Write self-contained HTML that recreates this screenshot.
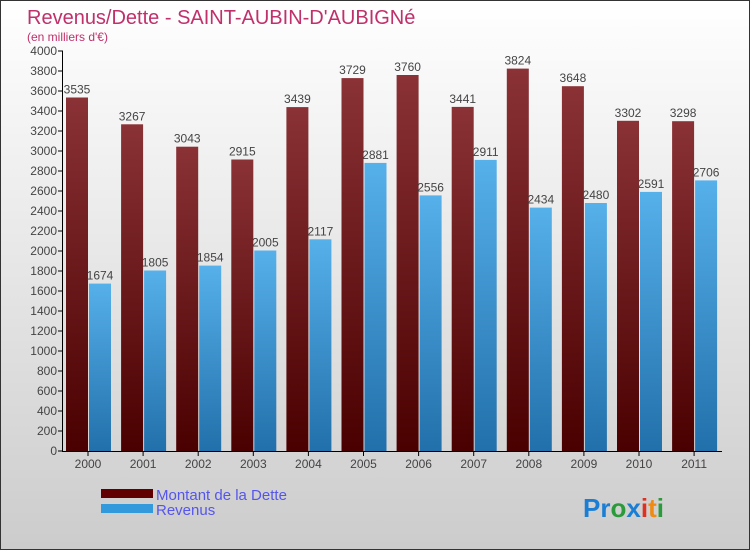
<!DOCTYPE html>
<html><head><meta charset="utf-8"><style>
body{margin:0}
#c{position:relative;width:748px;height:548px;border:1px solid #333;background:linear-gradient(#fff,#ccc);font-family:"Liberation Sans","DejaVu Sans",sans-serif;overflow:hidden}
</style></head><body>
<div id="c">
<svg id="s" width="748" height="548" style="position:absolute;left:0;top:0">
<defs>
<linearGradient id="gd" x1="0" y1="0" x2="0" y2="1"><stop offset="0" stop-color="#8a3236"/><stop offset="1" stop-color="#4a0000"/></linearGradient>
<linearGradient id="gr" x1="0" y1="0" x2="0" y2="1"><stop offset="0" stop-color="#56b0ea"/><stop offset="1" stop-color="#2270ab"/></linearGradient>
</defs>
<text x="26" y="23" font-size="20" fill="#c0306a">Revenus/Dette - SAINT-AUBIN-D'AUBIGNé</text>
<text x="26" y="40" font-size="12" fill="#c0306a">(en milliers d'€)</text>
<g id="g"></g>
<rect x="100" y="488" width="52" height="9" fill="#600000"/>
<rect x="100" y="503" width="52" height="9" fill="#3399dd"/>
<text x="155" y="499" font-size="15" fill="#5555ee">Montant de la Dette</text>
<text x="155" y="514" font-size="15" fill="#5555ee">Revenus</text>
<text x="582" y="516" font-size="26" font-weight="bold"><tspan fill="#1a7fd4">Pr</tspan><tspan fill="#2a9a3a">o</tspan><tspan fill="#1a7fd4">x</tspan><tspan fill="#e03020">i</tspan><tspan fill="#f08a10">t</tspan><tspan fill="#2a9a3a">i</tspan></text>
</svg>
</div>
<script>
const years=["2000","2001","2002","2003","2004","2005","2006","2007","2008","2009","2010","2011"];
const dette=[3535,3267,3043,2915,3439,3729,3760,3441,3824,3648,3302,3298];
const revenus=[1674,1805,1854,2005,2117,2881,2556,2911,2434,2480,2591,2706];
const yTicks=[0,200,400,600,800,1000,1200,1400,1600,1800,2000,2200,2400,2600,2800,3000,3200,3400,3600,3800,4000];
const NS="http://www.w3.org/2000/svg";
const g=document.getElementById('g');
const y=v=>450-v*0.1;
const xc=i=>87+i*55.1;
function mk(t,a,txt){const e=document.createElementNS(NS,t);for(const k in a)e.setAttribute(k,a[k]);if(txt!==undefined)e.textContent=txt;g.appendChild(e);return e;}
yTicks.forEach(v=>{
 const l=mk('line',{x1:57,x2:62,y1:y(v),y2:y(v),stroke:'#000'});
 
 
 const t=mk('text',{x:56,y:y(v)+4,'font-size':12,'text-anchor':'end',fill:'#444'},v);
 
 
});
years.forEach((yr,i)=>{
 const c=xc(i);
 const b1=mk('rect',{x:c-22,y:y(dette[i]),width:22,height:dette[i]*0.1,fill:'url(#gd)'});
 
 
 const b2=mk('rect',{x:c+1,y:y(revenus[i]),width:22,height:revenus[i]*0.1,fill:'url(#gr)'});
 
 
 const t1=mk('text',{x:c-11,y:y(dette[i])-4,'font-size':12,'text-anchor':'middle',fill:'#444'},dette[i]);
 
 
 const t2=mk('text',{x:c+12,y:y(revenus[i])-4,'font-size':12,'text-anchor':'middle',fill:'#444'},revenus[i]);
 
 
 const tk=mk('line',{x1:c,x2:c,y1:450,y2:455,stroke:'#000'});
 
 
 const tl=mk('text',{x:c,y:467,'font-size':12,'text-anchor':'middle',fill:'#444'},yr);
 
 
});
const ya=mk('line',{x1:61.5,x2:61.5,y1:50,y2:450,stroke:'#000'});


const xa=mk('line',{x1:61,x2:721,y1:450.5,y2:450.5,stroke:'#000'});


</script>
</body></html>
